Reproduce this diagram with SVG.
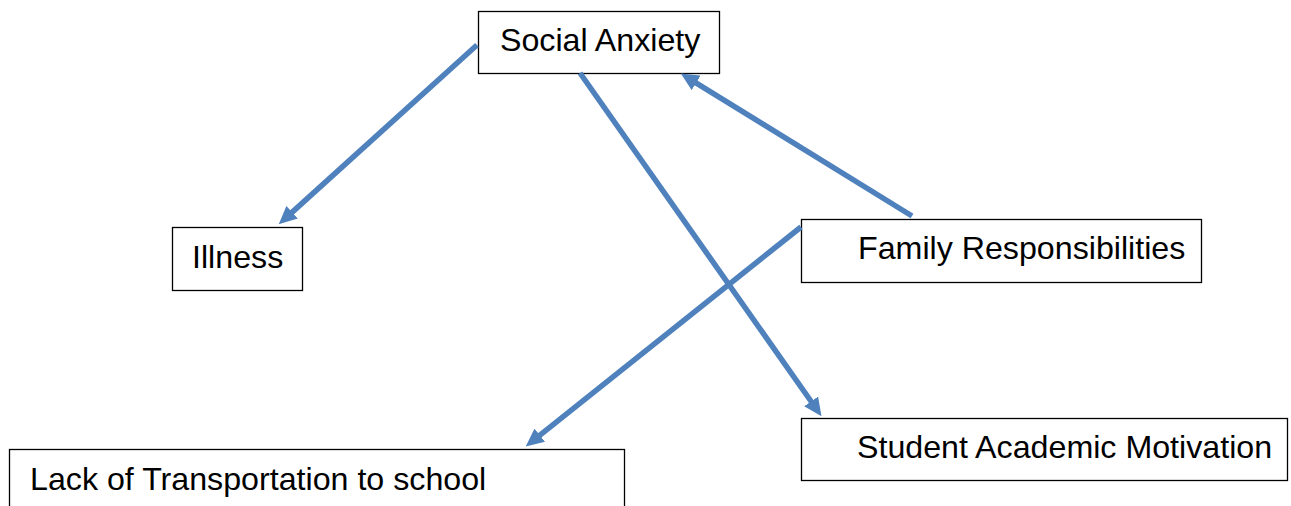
<svg xmlns="http://www.w3.org/2000/svg" width="1291" height="506" viewBox="0 0 1291 506">
<style>
.box{fill:#fff;stroke:#000;stroke-width:1.3}
.lbl{font-family:"Liberation Sans",Arial,sans-serif;font-size:32.2px;fill:#000}
.edge{fill:none;stroke:#4F81BD;stroke-width:5.5;marker-end:url(#ah)}
</style>
<defs>
<marker id="ah" markerUnits="userSpaceOnUse" markerWidth="18" markerHeight="17" viewBox="0 0 18 17" refX="5" refY="8.5" orient="auto">
<path d="M0,0 L18,8.5 L0,17 z" fill="#4F81BD"/>
</marker>
</defs>
<rect width="1291" height="506" fill="#fff"/>
<g id="n-social"><rect class="box" x="478.5" y="11.5" width="241" height="62"/><text class="lbl" x="500" y="51">Social Anxiety</text></g>
<g id="n-illness"><rect class="box" x="172.5" y="227.5" width="130" height="63"/><text class="lbl" x="192" y="268">Illness</text></g>
<g id="n-family"><rect class="box" x="801.5" y="219.5" width="400" height="63"/><text class="lbl" x="858" y="259">Family Responsibilities</text></g>
<g id="n-student"><rect class="box" x="801.5" y="418.5" width="486" height="62"/><text class="lbl" x="857" y="458">Student Academic Motivation</text></g>
<g id="n-lack"><rect class="box" x="9.5" y="449.5" width="615" height="80"/><text class="lbl" x="30" y="490">Lack of Transportation to school</text></g>
<g id="connectors">
<line class="edge" x1="477" y1="45" x2="288.4" y2="215.6"/>
<line class="edge" x1="580" y1="73" x2="814" y2="405.5"/>
<line class="edge" x1="912" y1="216" x2="691.9" y2="80.3"/>
<line class="edge" x1="801" y1="227" x2="535.9" y2="438.3"/>
</g>
</svg>
